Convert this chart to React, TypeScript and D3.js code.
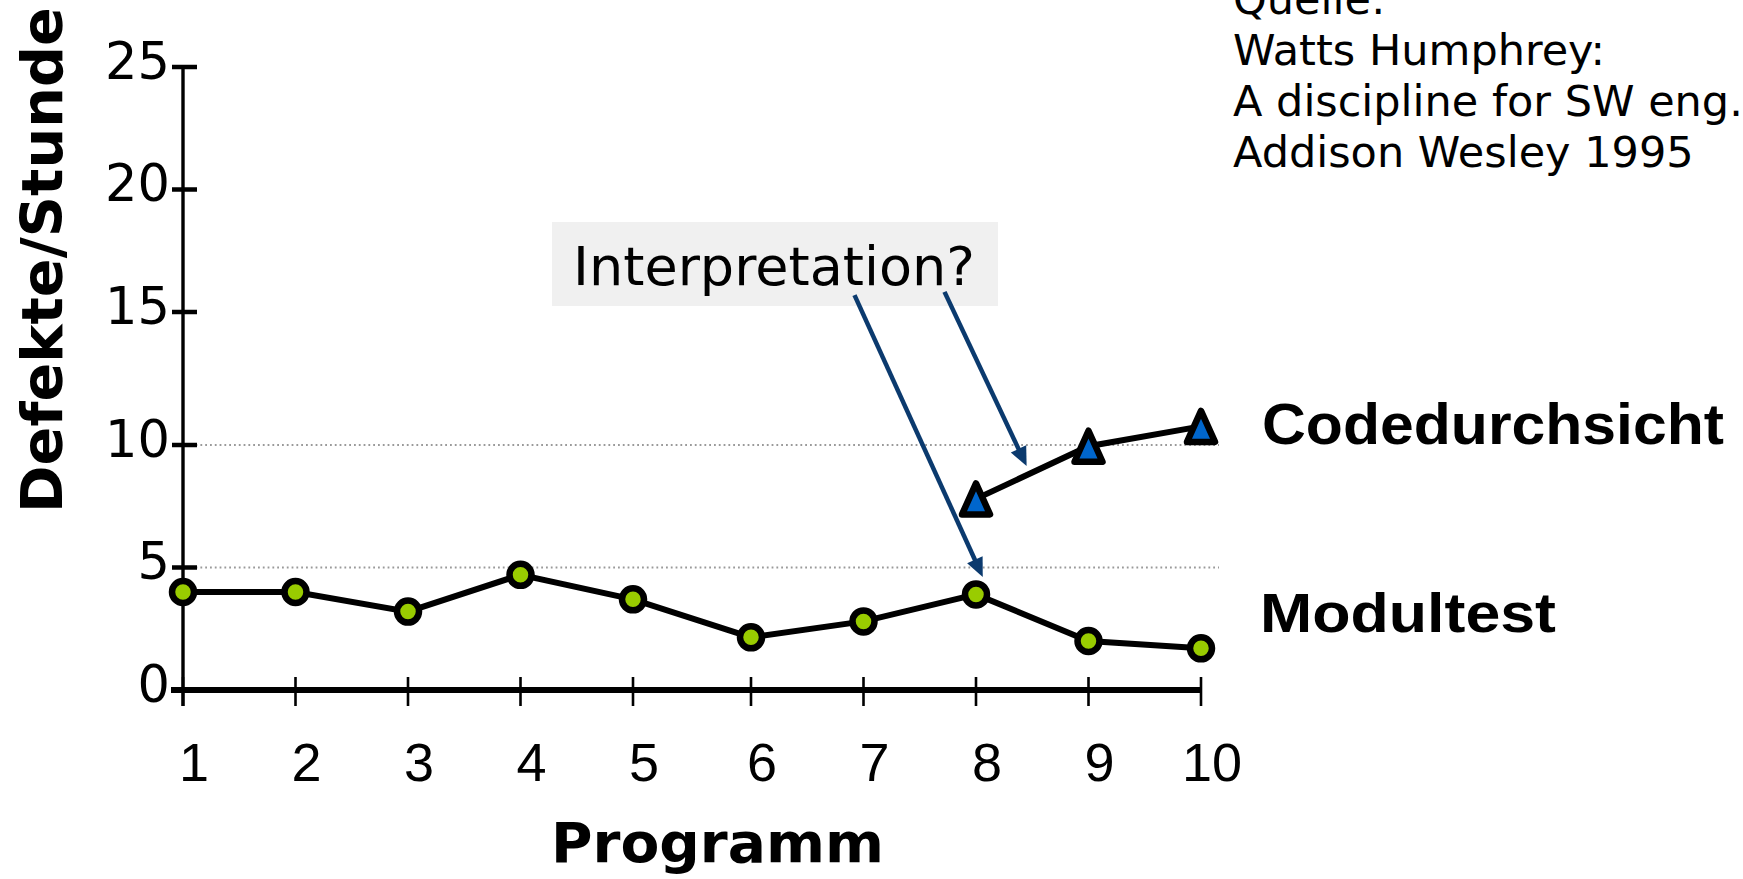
import React from 'react';
import * as d3 from 'd3';

// ---- data ----
const programs = [1, 2, 3, 4, 5, 6, 7, 8, 9, 10];
const modultest = [4.0, 4.0, 3.2, 4.7, 3.7, 2.15, 2.8, 3.9, 2.0, 1.7];
const codeProgs = [8, 9, 10];
const codedurchsicht = [7.8, 9.95, 10.7];
const yTicks = [0, 5, 10, 15, 20, 25];
const gridValues = [5, 10];
const sourceLines = ['Quelle:', 'Watts Humphrey:', 'A discipline for SW eng.', 'Addison Wesley 1995'];
const seriesLabels = ['Codedurchsicht', 'Modultest'];
const annotationText = 'Interpretation?';
const arrowStarts: [number, number][] = [[6.92, 15.69], [7.72, 15.82]];
const arrowTips: [number, number][] = [[8.06, 4.61], [8.45, 9.14]];

const W = 1743;
const H = 879;

const GREEN = '#99cc00';
const BLUE = '#0066cc';
const NAVY = '#0b3a6e';

export default function App() {
  const x = d3.scaleLinear().domain([1, 5, 6, 10]).range([183, 633, 751, 1201]);
  const y = d3.scaleLinear().domain([0, 10, 15, 25]).range([690, 445, 312, 67]);

  const line = d3
    .line<[number, number]>()
    .x((d) => x(d[0]))
    .y((d) => y(d[1]));

  const modPts: [number, number][] = programs.map((p, i) => [p, modultest[i]]);
  const codePts: [number, number][] = codeProgs.map((p, i) => [p, codedurchsicht[i]]);

  const axisX = x(1);
  const axisY = y(0);

  // triangle marker centred on its bounding box
  const triH = 31;
  const triHW = 14;
  const triPath = `M0,${-triH / 2}L${triHW},${triH / 2}L${-triHW},${triH / 2}Z`;

  const arrows = arrowStarts.map((s, i) => {
    const sx = x(s[0]);
    const sy = y(s[1]);
    const tx = x(arrowTips[i][0]);
    const ty = y(arrowTips[i][1]);
    const len = Math.hypot(tx - sx, ty - sy);
    const ux = (tx - sx) / len;
    const uy = (ty - sy) / len;
    const hl = 19;
    const hw = 8.5;
    const bx = tx - ux * hl;
    const by = ty - uy * hl;
    const px = -uy;
    const py = ux;
    return {
      x1: sx,
      y1: sy,
      x2: bx + ux * 3,
      y2: by + uy * 3,
      head: `M${tx},${ty}L${bx + px * hw},${by + py * hw}L${bx - px * hw},${by - py * hw}Z`,
    };
  });

  return (
    <svg
      width={W}
      height={H}
      viewBox={`0 0 ${W} ${H}`}
      style={{ position: 'absolute', left: 0, top: 0, display: 'block', background: '#fff' }}
    >
      {/* source note */}
      <g fontFamily="DejaVu Sans" fontSize={43} fill="#000">
        {sourceLines.map((t, i) => (
          <text key={t} x={1233} y={13.5 + i * 51}>
            {t}
          </text>
        ))}
      </g>

      {/* dotted grid lines */}
      {gridValues.map((v) => (
        <line
          key={v}
          x1={axisX + 3}
          x2={1219}
          y1={y(v)}
          y2={y(v)}
          stroke="#9a9a9a"
          strokeWidth={1.8}
          strokeDasharray="1.8,3"
        />
      ))}

      {/* y axis */}
      <line x1={axisX} x2={axisX} y1={y(25)} y2={axisY + 16} stroke="#000" strokeWidth={3.4} />
      {yTicks.map((v) => (
        <g key={v}>
          <line x1={axisX - 11} x2={axisX + 14} y1={y(v)} y2={y(v)} stroke="#000" strokeWidth={4.5} />
          <text
            x={170}
            y={y(v) + 11.5}
            textAnchor="end"
            fontFamily="DejaVu Sans"
            fontSize={51}
            fill="#000"
          >
            {v}
          </text>
        </g>
      ))}

      {/* x axis */}
      <line x1={axisX - 12} x2={x(10)} y1={axisY} y2={axisY} stroke="#000" strokeWidth={6} />
      {programs.map((p) => (
        <g key={p}>
          <line x1={x(p)} x2={x(p)} y1={axisY - 13} y2={axisY + 16} stroke="#000" strokeWidth={2.6} />
          <text
            x={x(p) + 11}
            y={781}
            textAnchor="middle"
            fontFamily="Liberation Sans"
            fontSize={54}
            fill="#000"
          >
            {p}
          </text>
        </g>
      ))}

      {/* axis titles */}
      <text
        transform="translate(62,260) rotate(-90)"
        textAnchor="middle"
        fontFamily="DejaVu Sans"
        fontWeight="bold"
        fontSize={57}
        textLength={506}
        lengthAdjust="spacingAndGlyphs"
        fill="#000"
      >
        Defekte/Stunde
      </text>
      <text
        x={551}
        y={862}
        fontFamily="DejaVu Sans"
        fontWeight="bold"
        fontSize={56}
        textLength={333}
        lengthAdjust="spacingAndGlyphs"
        fill="#000"
      >
        Programm
      </text>

      {/* series lines */}
      <path d={line(modPts) || ''} fill="none" stroke="#000" strokeWidth={6} />
      <path d={line(codePts) || ''} fill="none" stroke="#000" strokeWidth={6} />

      {/* markers */}
      {modPts.map((d) => (
        <circle
          key={`m${d[0]}`}
          cx={x(d[0])}
          cy={y(d[1])}
          r={11}
          fill={GREEN}
          stroke="#000"
          strokeWidth={6.5}
        />
      ))}
      {codePts.map((d) => (
        <path
          key={`c${d[0]}`}
          d={triPath}
          transform={`translate(${x(d[0])},${y(d[1])})`}
          fill={BLUE}
          stroke="#000"
          strokeWidth={6.5}
          strokeLinejoin="round"
        />
      ))}

      {/* series labels */}
      <text
        x={1262}
        y={444}
        fontFamily="Liberation Sans"
        fontWeight="bold"
        fontSize={57}
        textLength={462}
        lengthAdjust="spacingAndGlyphs"
        fill="#000"
      >
        {seriesLabels[0]}
      </text>
      <text
        x={1260}
        y={632}
        fontFamily="Liberation Sans"
        fontWeight="bold"
        fontSize={55}
        textLength={296}
        lengthAdjust="spacingAndGlyphs"
        fill="#000"
      >
        {seriesLabels[1]}
      </text>

      {/* annotation box */}
      <rect x={552} y={222} width={446} height={84} fill="#f0f0f0" />
      <text
        x={774}
        y={285}
        textAnchor="middle"
        fontFamily="DejaVu Sans"
        fontSize={53}
        textLength={402}
        lengthAdjust="spacingAndGlyphs"
        fill="#000"
      >
        {annotationText}
      </text>

      {/* arrows */}
      {arrows.map((a, i) => (
        <g key={i}>
          <line x1={a.x1} y1={a.y1} x2={a.x2} y2={a.y2} stroke={NAVY} strokeWidth={4.5} />
          <path d={a.head} fill={NAVY} />
        </g>
      ))}
    </svg>
  );
}
